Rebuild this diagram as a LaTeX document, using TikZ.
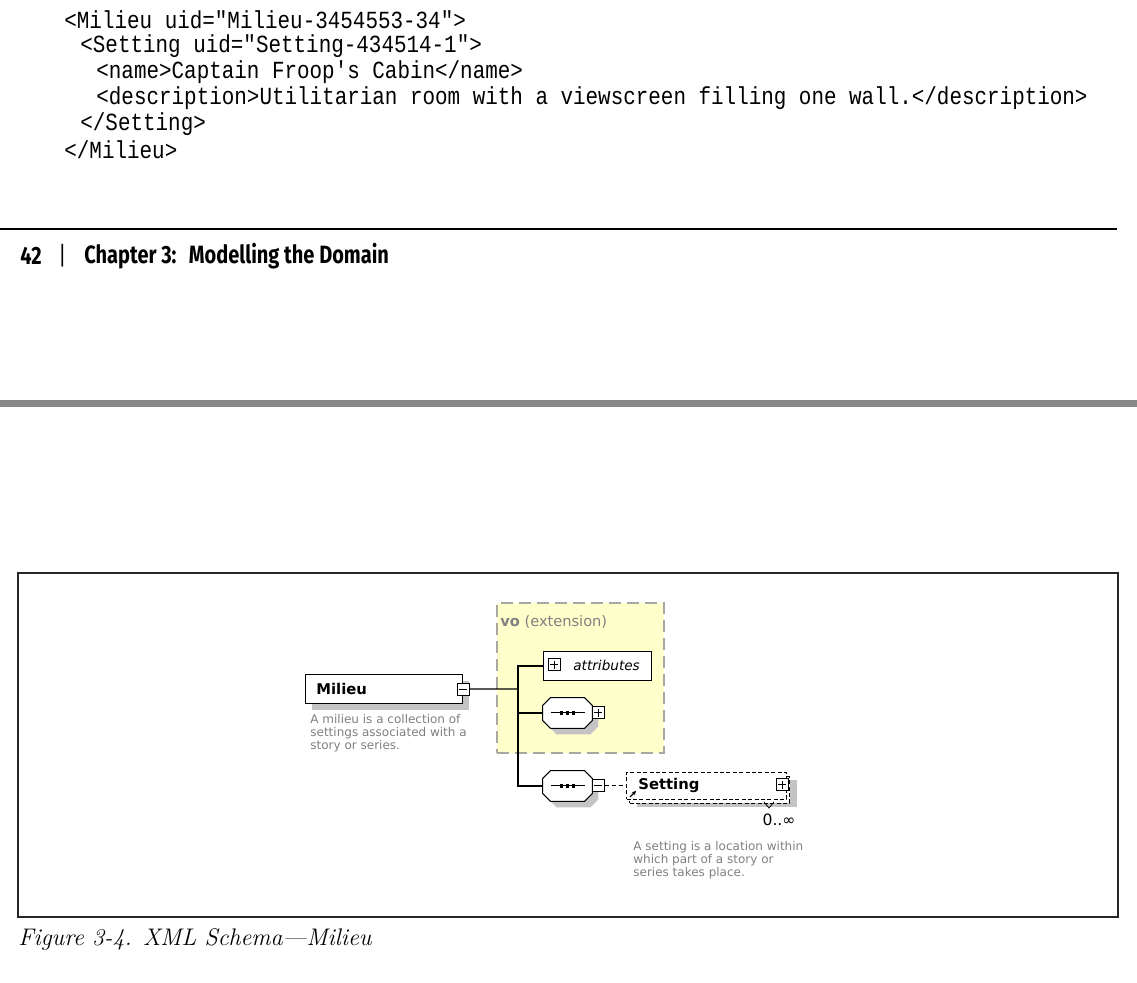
\documentclass[tikz,border=0pt]{standalone}
\usepackage{fontspec}
\usetikzlibrary{positioning}
\usetikzlibrary{shadows,arrows.meta}

\newfontfamily\codefont[FakeStretch=0.85]{Liberation Mono}
\newfontfamily\headfont[FakeStretch=0.8]{Fira Sans}
\newfontfamily\diafont{DejaVu Sans}

\definecolor{voyellow}{HTML}{FFFFCC}
\definecolor{vodash}{HTML}{A8A8A0}
\definecolor{notegray}{HTML}{808080}
\definecolor{shadowgray}{HTML}{C4C4C4}

\tikzset{
  codeline/.style={anchor=west,inner sep=0pt,font=\codefont\fontsize{12.3}{13}\selectfont},
  plainbox/.style={draw,fill=white,line width=0.6pt,inner sep=0pt},
  elembox/.style={plainbox,
    drop shadow={shadow xshift=3pt,shadow yshift=-3pt,fill=shadowgray,opacity=1}},
  seqbox/.style={inner sep=0pt,minimum width=24.5pt,minimum height=15pt},
  togglebox/.style={draw,fill=white,line width=0.5pt,inner sep=0pt,minimum size=6pt},
  plusbox/.style={togglebox,path picture={
    \draw[line width=0.5pt] ([xshift=1pt]path picture bounding box.west) -- ([xshift=-1pt]path picture bounding box.east);
    \draw[line width=0.5pt] ([yshift=1pt]path picture bounding box.south) -- ([yshift=-1pt]path picture bounding box.north);}},
  minusbox/.style={togglebox,path picture={
    \draw[line width=0.5pt] ([xshift=1pt]path picture bounding box.west) -- ([xshift=-1pt]path picture bounding box.east);}},
  boxlabel/.style={inner sep=0pt,font=\diafont\bfseries\fontsize{7.4}{8}\selectfont},
  note/.style={anchor=north west,inner sep=0pt,align=left,text=notegray,
    font=\diafont\fontsize{6}{6.5}\selectfont}
}

% octagon of a sequence compositor, with its shadow and dots
\newcommand\seqshape[1]{%
  \filldraw[fill=white,line width=0.5pt,
    preaction={fill=shadowgray,draw=none,transform canvas={shift={(3pt,-3pt)}}}]
      ([xshift=4pt]#1.north west) -- ([xshift=-4pt]#1.north east)
      -- ([yshift=-4pt]#1.north east) -- ([yshift=4pt]#1.south east)
      -- ([xshift=-4pt]#1.south east) -- ([xshift=4pt]#1.south west)
      -- ([yshift=4pt]#1.south west) -- ([yshift=-4pt]#1.north west) -- cycle;
  \draw[line width=0.5pt] ([xshift=-8.5pt]#1.center) -- ([xshift=8.5pt]#1.center);
  \foreach \dx in {-3,0,3}
    \fill ([xshift=\dx pt-0.8pt,yshift=-0.8pt]#1.center) rectangle ++(1.6pt,1.6pt);
}

\begin{document}
\begin{tikzpicture}[x=0.5pt,y=-0.5pt]
  \useasboundingbox (0,0) rectangle (1137,983);

  % code listing
  \node[codeline] (l1) at (64,20) {<Milieu uid="Milieu-3454553-34">};
  \node[codeline] (l2) at (80,46) {<Setting uid="Setting-434514-1">};
  \node[codeline] (l3) at (96,72) {<name>Captain Froop's Cabin</name>};
  \node[codeline] (l4) at (96,98) {<description>Utilitarian room with a viewscreen filling one wall.</description>};
  \node[codeline] (l5) at (80,124) {</Setting>};
  \node[codeline] (l6) at (64,150) {</Milieu>};

  % page foot
  \draw[line width=0.6pt] (0,229) -- (1117,229);
  \node[anchor=west,inner sep=0pt,font=\headfont\bfseries\fontsize{12.5}{14}\selectfont] (pgno) at (20,256) {42};
  \node[anchor=west,inner sep=0pt,font=\headfont\fontsize{12.5}{14}\selectfont] (pgbar) at (58,256) {|};
  \node[anchor=west,inner sep=0pt,font=\headfont\bfseries\fontsize{12.5}{14}\selectfont] (chap) at (84,256) {Chapter 3:\enspace Modelling the Domain};

  \fill[black!47] (0,400) rectangle (1137,407);

  % figure frame
  \draw[line width=0.7pt,black!85] (18,573) rectangle (1118,917);

  % vo extension
  \node[draw=vodash,fill=voyellow,dash pattern=on 6pt off 3pt,line width=0.8pt,
        anchor=north west,minimum width=83.5pt,minimum height=75pt,inner sep=0pt] (vo) at (496,602) {};
  \node[anchor=west,inner sep=0pt,text=notegray,font=\diafont\fontsize{7.3}{8}\selectfont] (volabel) at (500,622) {\textbf{vo} (extension)};

  % Milieu element
  \node[elembox,anchor=north west,minimum width=78.5pt,minimum height=14.5pt] (milieu) at (305,674) {};
  \node[boxlabel,anchor=west] (milieutext) at (316,689) {Milieu};
  \node[minusbox] (milieuminus) at (milieu.east) {};
  \node[note] (milieunote) at (310,714) {A milieu is a collection of\\settings associated with a\\story or series.};

  % attributes
  \node[plainbox,anchor=north west,minimum width=54pt,minimum height=14.5pt] (attrs) at (543,651) {};
  \node[plusbox] (attrsplus) at (554,665) {};
  \node[anchor=west,inner sep=0pt,font=\diafont\itshape\fontsize{6.8}{8}\selectfont] (attrstext) at (573,665) {attributes};

  % sequences
  \node[seqbox] (seqa) at (567.5,713) {};
  \seqshape{seqa}
  \node[plusbox] (seqaplus) at (598,713) {};
  \node[seqbox] (seqb) at (567.5,786) {};
  \seqshape{seqb}
  \node[minusbox] (seqbminus) at (598,786) {};

  % Setting element
  \node[draw,fill=white,dash pattern=on 2pt off 1.2pt,line width=0.5pt,anchor=north west,
        minimum width=80pt,minimum height=13.5pt,inner sep=0pt,
        drop shadow={shadow xshift=5pt,shadow yshift=-4pt,fill=shadowgray,opacity=1},
        copy shadow={shadow xshift=1.5pt,shadow yshift=-2pt}] (setting) at (626,772) {};
  \node[boxlabel,anchor=west] (settingtext) at (638,785) {Setting};
  \node[plusbox] (settingplus) at (782,785) {};
  \draw[-{Stealth[length=2pt,width=2pt]},line width=0.6pt] (630,797) -- (636,791);
  \draw[line width=0.4pt] (764,802) -- (769,808) -- (774,802);
  \node[inner sep=0pt,font=\diafont\fontsize{7.8}{9}\selectfont] (card) at (779,820) {0..∞};
  \node[note] (settingnote) at (633,841) {A setting is a location within\\which part of a story or\\series takes place.};

  % connectors
  \coordinate (fork) at (518,689);
  \draw[line width=0.6pt] (milieuminus.east) -- (fork);
  \draw[line width=0.6pt] (attrs.west) -| (fork) |- (seqb.west);
  \draw[line width=0.6pt] (seqa.west) -- (seqa.west -| fork);
  \draw[line width=0.5pt,dash pattern=on 2pt off 1.5pt] (seqbminus.east) -- (setting.west);

  % caption
  \node[anchor=west,inner sep=0pt,font=\itshape\fontsize{12}{14}\selectfont] (caption) at (18,940) {Figure 3-4. XML Schema---Milieu};
\end{tikzpicture}
\end{document}
